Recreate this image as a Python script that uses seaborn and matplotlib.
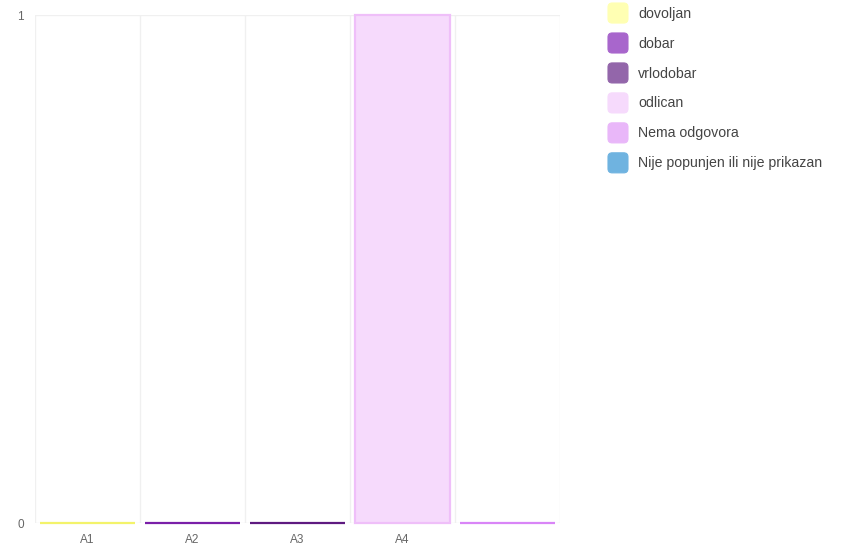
import seaborn as sns
import matplotlib.pyplot as plt
import pandas as pd
from matplotlib.patches import FancyBboxPatch, Patch
from matplotlib.legend_handler import HandlerPatch

categories = ['A1', 'A2', 'A3', 'A4', '']
values = [0, 0, 0, 1, 0]
series = ['dovoljan', 'dobar', 'vrlodobar', 'odlican', 'Nema odgovora']
legend_labels = ['dovoljan', 'dobar', 'vrlodobar', 'odlican', 'Nema odgovora',
                 'Nije popunjen ili nije prikazan']
fill_colors = ['#ffffb3', '#a866cc', '#9366aa', '#f6dafc', '#e9b7f9', '#6fb3e0']
edge_colors = ['#f3f36a', '#7a1fa8', '#5e1a80', '#efbff9', '#d985f7', '#4a9bd0']

data = pd.DataFrame({'cat': categories, 'value': values, 'series': series})

sns.set_style('white')
plt.rcParams['font.family'] = ['Liberation Sans', 'DejaVu Sans']

fig = plt.figure(figsize=(8.42, 5.46), dpi=100)
ax = fig.add_axes([0.0416, 0.042, 0.6235, 0.9305])

pal = dict(zip(legend_labels, fill_colors))
sns.barplot(data=data, x='cat', y='value', hue='series', palette=pal,
            dodge=False, width=0.9, saturation=1, legend=False, ax=ax)

edge_map = dict(zip(legend_labels, edge_colors))
for p, s in zip(ax.patches, series):
    p.set_edgecolor(edge_map[s])
    p.set_linewidth(1.6)
    p.set_clip_on(False)

ax.set_xlim(-0.5, 4.5)
ax.set_ylim(0, 1)
ax.set_yticks([0, 1])
ax.set_xticks(range(len(categories)))
ax.set_xticklabels(categories)
ax.set_xticks([i - 0.5 for i in range(len(categories) + 1)], minor=True)
ax.grid(True, which='minor', axis='x', color='#f0f0f0', linewidth=1)
ax.grid(True, which='major', axis='y', color='#f0f0f0', linewidth=1)
ax.set_axisbelow(True)
ax.tick_params(axis='both', which='major', labelsize=8.5, labelcolor='#666666',
               length=0, pad=8)
ax.tick_params(axis='x', which='minor', length=5, color='#f0f0f0')
for sp in ax.spines.values():
    sp.set_visible(False)
ax.set_xlabel('')
ax.set_ylabel('')


class RoundBox(HandlerPatch):
    def create_artists(self, legend, orig_handle, xdescent, ydescent,
                       width, height, fontsize, trans):
        r = 3
        p = FancyBboxPatch((-xdescent + r, -ydescent + r), width - 2 * r,
                           height - 2 * r, boxstyle='round,pad=%d' % r,
                           facecolor=orig_handle.get_facecolor(),
                           edgecolor=orig_handle.get_edgecolor(),
                           linewidth=0.8, transform=trans)
        return [p]


handles = [Patch(facecolor=f, edgecolor=f, label=l)
           for f, l in zip(fill_colors, legend_labels)]
fig.legend(handles=handles, loc='upper left',
           bbox_to_anchor=(608 / 842, 1 - 3 / 546),
           frameon=False, fontsize=10.2, labelcolor='#444444',
           borderpad=0, borderaxespad=0,
           handlelength=1.41, handleheight=1.8, labelspacing=0.7,
           handletextpad=0.7, handler_map={Patch: RoundBox()})

plt.savefig('out.png', dpi=100)
